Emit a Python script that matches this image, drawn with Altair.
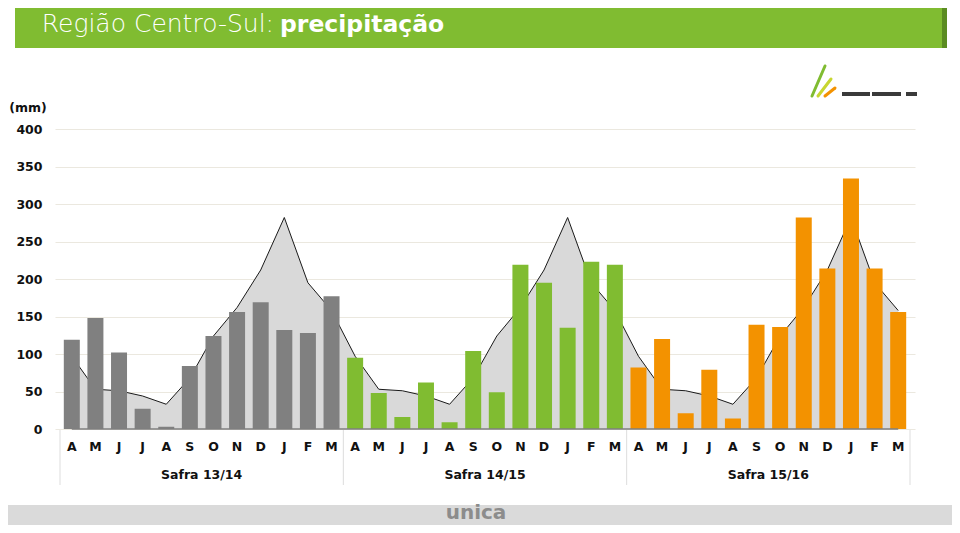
import altair as alt
import pandas as pd

months = ["A", "M", "J", "J", "A", "S", "O", "N", "D", "J", "F", "M"]
seasons = ["Safra 13/14", "Safra 14/15", "Safra 15/16"]
season_colors = ["#808080", "#80bc31", "#f39200"]

rain_1314 = [119, 148, 102, 27, 3, 84, 124, 156, 169, 132, 128, 177]
rain_1415 = [95, 48, 16, 62, 9, 104, 49, 219, 195, 135, 223, 219]
rain_1516 = [82, 120, 21, 79, 14, 139, 136, 282, 214, 334, 214, 156]
climate_avg = [97, 53, 51, 44, 33, 68, 124, 162, 212, 282, 195, 158]

rows = []
for s, vals in enumerate([rain_1314, rain_1415, rain_1516]):
    for m in range(12):
        rows.append({"idx": s * 12 + m, "month": months[m], "season": seasons[s],
                     "rain": vals[m], "avg": climate_avg[m]})
df = pd.DataFrame(rows)

seas_df = pd.DataFrame({"season": seasons, "mid": [5.5, 17.5, 29.5]})
sep_df = pd.DataFrame({"sx": [-0.5, 11.5, 23.5, 35.5]})

xs = alt.Scale(domain=[-0.5, 35.5], nice=False, zero=False)
ys = alt.Scale(domain=[0, 400], nice=False)
yaxis = alt.Axis(values=list(range(0, 401, 50)), title=None, domain=False, ticks=False,
                 grid=True, gridColor="#ebe8df", gridWidth=1.2, labelOverlap=False,
                 labelFont="DejaVu Sans", labelFontWeight="bold", labelFontSize=12.5,
                 labelColor="#111111", labelPadding=13)

base = alt.Chart(df)

area = base.mark_area(color="#d9d9d9", opacity=1, line={"color": "#1a1a1a", "strokeWidth": 1}).encode(
    x=alt.X("idx:Q", scale=xs, axis=None),
    y=alt.Y("avg:Q", scale=ys, axis=yaxis),
)

bars = base.mark_bar(size=16).encode(
    x=alt.X("idx:Q", scale=xs, axis=None),
    y=alt.Y("rain:Q", scale=ys, axis=yaxis),
    color=alt.Color("season:N", scale=alt.Scale(domain=seasons, range=season_colors), legend=None),
)

baseline = alt.Chart(pd.DataFrame({"a": [0]})).mark_rule(color="#7f7f7f", strokeWidth=1.5).encode(
    x=alt.datum(0, scale=xs, axis=None), x2=alt.datum(35), y=alt.datum(0, scale=ys, axis=yaxis))

month_txt = base.mark_text(font="DejaVu Sans", fontWeight="bold", fontSize=12.5, color="#111111",
                           baseline="middle").encode(
    x=alt.X("idx:Q", scale=xs, axis=None), y=alt.value(318), text="month:N")

season_txt = alt.Chart(seas_df).mark_text(font="DejaVu Sans", fontWeight="bold", fontSize=12.5,
                                          color="#111111", baseline="middle").encode(
    x=alt.X("mid:Q", scale=xs, axis=None), y=alt.value(346), text="season:N")

seps = alt.Chart(sep_df).mark_rule(color="#dddddd", strokeWidth=1).encode(
    x=alt.X("sx:Q", scale=xs, axis=None), y=alt.value(301), y2=alt.value(356))

one = pd.DataFrame({"a": [0]})

banner = alt.Chart(one).mark_rect(color="#80bc31").encode(
    x=alt.value(-40), x2=alt.value(888), y=alt.value(-125), y2=alt.value(-81))
banner_edge = alt.Chart(one).mark_rect(color="#5b8c22").encode(
    x=alt.value(887), x2=alt.value(892), y=alt.value(-125), y2=alt.value(-81))
title_a = alt.Chart(one).mark_text(text="Região Centro-Sul:", font="DejaVu Sans", fontWeight=200,
                                   fontSize=25, color="white", align="right", baseline="alphabetic").encode(
    x=alt.value(219), y=alt.value(-97))
title_b = alt.Chart(one).mark_text(text="precipitação", font="DejaVu Sans", fontWeight="bold",
                                   fontSize=23.5, color="white", align="left", baseline="alphabetic").encode(
    x=alt.value(225), y=alt.value(-97))

mm = alt.Chart(one).mark_text(text="(mm)", font="DejaVu Sans", fontWeight="bold", fontSize=12.5,
                              color="#111111", align="center", baseline="middle").encode(
    x=alt.value(-27), y=alt.value(-21))

bottom_band = alt.Chart(one).mark_rect(color="#dadada").encode(
    x=alt.value(-47), x2=alt.value(897), y=alt.value(376), y2=alt.value(420))
unica = alt.Chart(one).mark_text(text="unica", font="DejaVu Sans", fontWeight="bold", fontSize=20,
                                 color="#8c8c8c", align="center", baseline="alphabetic").encode(
    x=alt.value(421), y=alt.value(390))

# partial logo at top right
logo_dark = alt.Chart(pd.DataFrame({"x1": [787, 817, 851], "x2": [815, 846, 862]})).mark_rule(
    color="#3a3a3a", strokeWidth=4).encode(
    x=alt.X("x1:Q", scale=None), x2="x2:Q", y=alt.value(-35), y2=alt.value(-35))
logo_sw = alt.Chart(pd.DataFrame({"x1": [757, 763, 770], "x2": [770, 776, 780],
                                  "y1": [-33, -33, -33], "y2": [-63, -50, -41],
                                  "c": ["#80bc31", "#c8d630", "#f39200"]})).mark_rule(
    strokeWidth=3, strokeCap="round").encode(
    x=alt.X("x1:Q", scale=None), x2="x2:Q", y=alt.Y("y1:Q", scale=None), y2="y2:Q",
    color=alt.Color("c:N", scale=None))

chart = alt.layer(
    banner, banner_edge, title_a, title_b, bottom_band, unica, logo_sw, logo_dark,
    area, bars, baseline, month_txt, season_txt, seps, mm
).properties(
    width=860, height=300,
    padding={"left": 47, "top": 121, "right": 37, "bottom": 96},
    autosize=alt.AutoSizeParams(type="none"),
).configure_view(stroke=None)

chart.save("out.html", embed_options={"renderer": "svg", "actions": False})
